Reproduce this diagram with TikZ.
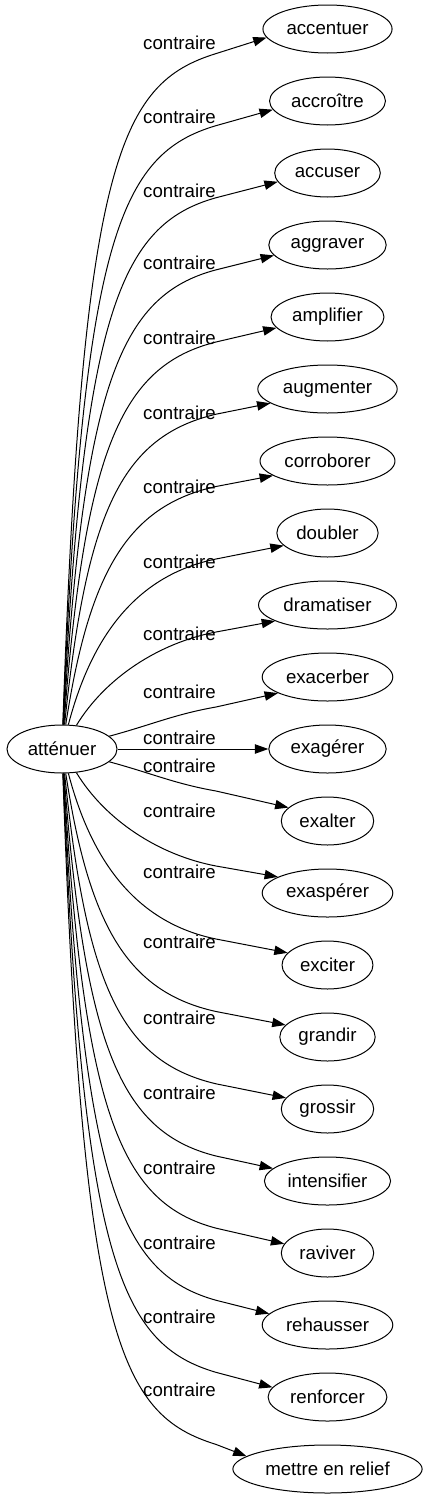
\documentclass[tikz,border=0pt]{standalone}
\usepackage{fontspec}
\setmainfont{Liberation Sans}
\usetikzlibrary{shapes.geometric,arrows.meta}
\begin{document}
\begin{tikzpicture}[
		x=0.75pt,
		y=-0.75pt,
		line width=0.75pt,
		every node/.style={font=\fontsize{14pt}{16pt}\selectfont},
		word/.style={draw, ellipse, minimum height=36pt, inner xsep=3.5pt, inner ysep=0pt},
		rel/.style={inner sep=0pt},
		link/.style={-{Triangle[length=10pt, width=7pt]}}
		]
	\useasboundingbox (0, 0) rectangle (426, 1499);

	% Source word
	\node[word] (attenuer) at (62, 749) {atténuer};

	% Opposites, labels and links
	\foreach \name/\word/\i/\ly in {accentuer/accentuer/0/43, accroitre/accroître/1/117,
		accuser/accuser/2/191, aggraver/aggraver/3/263, amplifier/amplifier/4/338,
		augmenter/augmenter/5/413, corroborer/corroborer/6/487, doubler/doubler/7/562,
		dramatiser/dramatiser/8/634, exacerber/exacerber/9/692, exagerer/exagérer/10/738,
		exalter/exalter/11/766, exasperer/exaspérer/12/811, exciter/exciter/13/872,
		grandir/grandir/14/942, grossir/grossir/15/1018, intensifier/intensifier/16/1093,
		raviver/raviver/17/1168, rehausser/rehausser/18/1243, renforcer/renforcer/19/1317,
		relief/mettre en relief/20/1390}{
		\pgfmathsetmacro{\ty}{29+72*\i}
		\node[word] (\name) at (327.5, \ty) {\word};
		\node[rel] (rel-\name) at (179.5, \ly) {contraire};
		\ifnum\i=10
			\draw[link] (attenuer) -- (\name);
		\else
			\pgfmathsetmacro{\dn}{abs(\i-10)}
			\pgfmathsetmacro{\sg}{(\i>10)-(\i<10)}
			\pgfmathsetmacro{\off}{24+6/\dn}
			\pgfmathsetmacro{\wy}{\ty-\sg*\off}
			\pgfmathsetmacro{\cax}{80+72/(\dn^1.5)}
			\pgfmathsetmacro{\cay}{749+(0.55+0.03*\dn)*(\wy-749)}
			\pgfmathsetmacro{\kx}{min(96,25+16*\dn)}
			\pgfmathsetmacro{\cby}{\wy-\sg*\kx*(0.16+0.015*\dn)}
			\pgfmathtruncatemacro{\ang}{180-\sg*(20-1.2*\dn)}
			\coordinate (w-\name) at (216, \wy);
			\draw[link] (attenuer) .. controls (\cax, \cay) and (216-\kx, \cby) .. (w-\name) -- (\name.\ang);
		\fi
	}

\end{tikzpicture}
\end{document}
